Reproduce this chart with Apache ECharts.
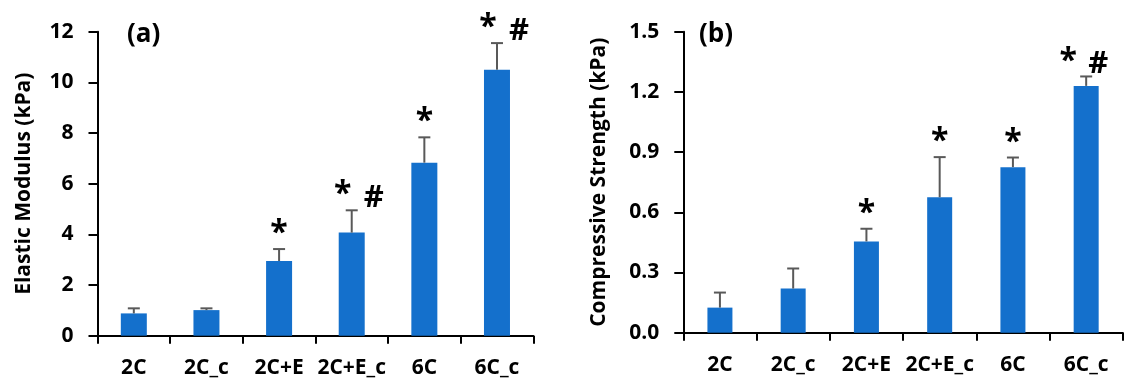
<!DOCTYPE html>
<html><head><meta charset="utf-8">
<script src="https://cdn.jsdelivr.net/npm/echarts@6/dist/echarts.min.js"></script>
<style>html,body{margin:0;padding:0;background:#fff}#c{width:1124px;height:380px}</style>
</head><body><div id="c"></div>
<script>
const categories = ['2C', '2C_c', '2C+E', '2C+E_c', '6C', '6C_c'];
const elasticModulus = [0.88, 1.01, 2.95, 4.07, 6.83, 10.5];
const elasticErr = [0.20, 0.07, 0.47, 0.88, 1.00, 1.05];
const compStrength = [0.125, 0.22, 0.455, 0.675, 0.825, 1.23];
const compErr = [0.075, 0.10, 0.063, 0.20, 0.048, 0.047];
const signifA = ['', '', '*', '*#', '*', '*#'];
const signifB = ['', '', '*', '*', '*', '*#'];
const ticksA = { min: 0, max: 12, interval: 2 };
const ticksB = { min: 0, max: 1.5, interval: 0.3 };

const FONT = '"Open Sans", sans-serif';
const BAR = '#1470CC';
const ERR = '#595959';

function errSeries(idx, vals, errs) {
  return {
    type: 'custom', xAxisIndex: idx, yAxisIndex: idx, z: 5,
    data: vals.map((v, i) => [i, v, v + errs[i]]),
    renderItem: function (params, api) {
      const lo = api.coord([api.value(0), api.value(1)]);
      const hi = api.coord([api.value(0), api.value(2)]);
      const st = { stroke: ERR, lineWidth: 2 };
      return { type: 'group', children: [
        { type: 'line', shape: { x1: lo[0], y1: lo[1], x2: hi[0], y2: hi[1] }, style: st },
        { type: 'line', shape: { x1: hi[0] - 6, y1: hi[1], x2: hi[0] + 6, y2: hi[1] }, style: st }
      ]};
    }
  };
}
function sigSeries(idx, vals, errs, sig, starDx, hashDx) {
  return {
    type: 'custom', xAxisIndex: idx, yAxisIndex: idx, z: 6,
    data: vals.map((v, i) => [i, v + errs[i]]),
    renderItem: function (params, api) {
      const s = sig[params.dataIndex];
      if (!s) return null;
      const p = api.coord([api.value(0), api.value(1)]);
      const kids = [];
      const two = s.indexOf('#') >= 0;
      kids.push({ type: 'text', x: p[0] + (two ? starDx : 0), y: p[1] - 15,
        style: { text: '*', fill: '#000', font: 'bold 32px ' + FONT, align: 'center', verticalAlign: 'middle' } });
      if (two) kids.push({ type: 'text', x: p[0] + hashDx, y: p[1] - 12,
        style: { text: '#', fill: '#000', font: 'bold 31px ' + FONT, align: 'center', verticalAlign: 'middle' } });
      return { type: 'group', children: kids };
    }
  };
}
const axisLine = { show: true, lineStyle: { color: '#000', width: 2 } };
function xAx(idx) {
  return { type: 'category', gridIndex: idx, data: categories, boundaryGap: true,
    axisLine: axisLine, axisTick: { show: true, length: 8, interval: 0, lineStyle: { color: '#000', width: 2 } },
    axisLabel: { interval: 0, fontFamily: FONT, fontWeight: 'bold', fontSize: 21, color: '#000', margin: 22 },
    splitLine: { show: false } };
}
function yAx(idx, t, name, gap, fmt) {
  return { type: 'value', gridIndex: idx, min: t.min, max: t.max, interval: t.interval,
    name: name, nameLocation: 'middle', nameGap: gap,
    nameTextStyle: { fontFamily: FONT, fontWeight: 'bold', fontSize: 21, color: '#000' },
    axisLine: axisLine, axisTick: { show: true, length: 9, lineStyle: { color: '#000', width: 2 } },
    axisLabel: { fontFamily: FONT, fontWeight: 'bold', fontSize: 21, color: '#000', margin: 24, formatter: fmt },
    splitLine: { show: false } };
}
const chart = echarts.init(document.getElementById('c'), null, { renderer: 'canvas' });
chart.setOption({
  animation: false,
  backgroundColor: '#fff',
  title: [
    { text: '(a)', left: 122, top: 17, textStyle: { fontFamily: FONT, fontWeight: 'bold', fontSize: 26, color: '#000' } },
    { text: '(b)', left: 694, top: 17, textStyle: { fontFamily: FONT, fontWeight: 'bold', fontSize: 26, color: '#000' } }
  ],
  grid: [
    { left: 97.5, top: 31.7, width: 435.8, height: 304 },
    { left: 683.3, top: 31.7, width: 439.5, height: 301 }
  ],
  xAxis: [xAx(0), xAx(1)],
  yAxis: [
    yAx(0, ticksA, 'Elastic Modulus (kPa)', 63, v => String(v)),
    yAx(1, ticksB, 'Compressive Strength (kPa)', 74, v => v.toFixed(1))
  ],
  series: [
    { type: 'bar', xAxisIndex: 0, yAxisIndex: 0, data: elasticModulus, barWidth: 26, itemStyle: { color: BAR } },
    { type: 'bar', xAxisIndex: 1, yAxisIndex: 1, data: compStrength, barWidth: 25, itemStyle: { color: BAR } },
    errSeries(0, elasticModulus, elasticErr),
    errSeries(1, compStrength, compErr),
    sigSeries(0, elasticModulus, elasticErr, signifA, -9, 22),
    sigSeries(1, compStrength, compErr, signifB, -18, 12)
  ]
});
</script></body></html>
